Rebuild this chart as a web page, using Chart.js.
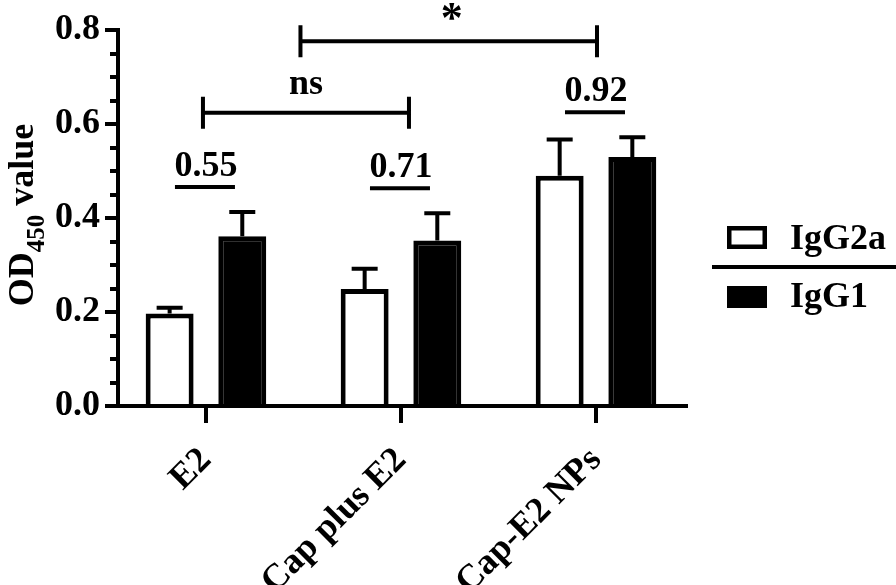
<!DOCTYPE html>
<html><head><meta charset="utf-8">
<script src="https://cdn.jsdelivr.net/npm/chart.js@4/dist/chart.umd.min.js"></script>
<style>html,body{margin:0;padding:0;background:#fff;} canvas{display:block;}</style>
</head><body>
<canvas id="c" width="896" height="585"></canvas>
<script>
// ---- data ----
const categories = ['E2', 'Cap plus E2', 'Cap-E2 NPs'];
const seriesNames = ['IgG2a', 'IgG1'];
const igg2a = [0.197, 0.249, 0.490];
const igg2aErr = [0.012, 0.043, 0.077];
const igg1 = [0.361, 0.352, 0.530];
const igg1Err = [0.052, 0.058, 0.042];
const yTicks = [0, 0.2, 0.4, 0.6, 0.8];
const pValues = ['0.55', '0.71', '0.92'];          // IgG2a vs IgG1 within each group
const groupTests = ['ns', '*'];                    // between-group comparisons
const groupTestFrom = [0, 0.5];                    // category index
const groupTestTo = [1, 2];

// ---- styling / layout ----
const FONT = '"Liberation Serif", "Times New Roman", serif';
const BLACK = '#000';
const bracketLevel = [0.624, 0.776];   // y (data units) of the bracket lines
const bracketLabelLevel = [0.663, 0.80];

const annot = {
  id: 'annot',
  afterDraw(chart) {
    const {ctx, scales: {x, y}, chartArea} = chart;
    ctx.save();
    ctx.strokeStyle = BLACK; ctx.fillStyle = BLACK; ctx.lineCap = 'butt';

    // minor y ticks
    ctx.lineWidth = 4;
    for (let k = 1; k < 16; k++) {
      if (k % 4 === 0) continue;
      const py = Math.round(y.getPixelForValue(k * 0.05));
      ctx.beginPath(); ctx.moveTo(chartArea.left - 8, py); ctx.lineTo(chartArea.left, py); ctx.stroke();
    }

    // error bars (upper only)
    const capTops = [[], []];
    chart.data.datasets.forEach((ds, di) => {
      const meta = chart.getDatasetMeta(di);
      meta.data.forEach((bar, i) => {
        const top = y.getPixelForValue(ds.data[i].y + ds.err[i]);
        capTops[di][i] = top;
        ctx.lineWidth = 4;
        ctx.beginPath();
        ctx.moveTo(bar.x, bar.y); ctx.lineTo(bar.x, top);
        ctx.moveTo(bar.x - 13, top); ctx.lineTo(bar.x + 13, top);
        ctx.stroke();
      });
    });

    // p-values above each pair
    ctx.font = 'bold 36px ' + FONT;
    ctx.textAlign = 'center'; ctx.textBaseline = 'alphabetic';
    pValues.forEach((t, i) => {
      const b0 = chart.getDatasetMeta(0).data[i], b1 = chart.getDatasetMeta(1).data[i];
      const lineY = Math.min(capTops[0][i], capTops[1][i]) - 25;
      const cx = (b0.x + b1.x) / 2;
      ctx.lineWidth = 4;
      ctx.beginPath(); ctx.moveTo(cx - 31, lineY); ctx.lineTo(cx + 29, lineY); ctx.stroke();
      ctx.fillText(t, cx, lineY - 11);
    });

    // group comparison brackets
    groupTests.forEach((t, i) => {
      const x0 = x.getPixelForValue(groupTestFrom[i]) - 3;
      const x1 = x.getPixelForValue(groupTestTo[i]) + (i === 0 ? 8 : 1);
      const ly = y.getPixelForValue(bracketLevel[i]);
      ctx.lineWidth = 4;
      ctx.beginPath();
      ctx.moveTo(x0, ly); ctx.lineTo(x1, ly);
      ctx.moveTo(x0, ly - 16); ctx.lineTo(x0, ly + 16);
      ctx.moveTo(x1, ly - 16); ctx.lineTo(x1, ly + 16);
      ctx.stroke();
      const tx = (x0 + x1) / 2 + (i === 1 ? 3 : 0);
      ctx.font = (i === 1 ? 'bold 44px ' : 'bold 36px ') + FONT;
      ctx.fillText(t, tx, y.getPixelForValue(bracketLabelLevel[i]) + (i === 1 ? 2 : 0));
    });

    // y axis title with subscript
    ctx.save();
    ctx.translate(33, 215);
    ctx.rotate(-Math.PI / 2);
    const mainF = 'bold 36px ' + FONT, subF = 'bold 25px ' + FONT;
    ctx.font = mainF; const wOD = ctx.measureText('OD').width; const wVal = ctx.measureText(' value').width;
    ctx.font = subF; const wSub = ctx.measureText('450').width;
    let sx = -(wOD + wSub + wVal) / 2;
    ctx.textAlign = 'left';
    ctx.font = mainF; ctx.fillText('OD', sx, 0); sx += wOD;
    ctx.font = subF; ctx.fillText('450', sx, 11); sx += wSub;
    ctx.font = mainF; ctx.fillText(' value', sx, 0);
    ctx.restore();

    // legend
    const ds = chart.data.datasets;
    ctx.lineWidth = 4.5;
    ctx.fillStyle = ds[0].backgroundColor; ctx.fillRect(727, 226, 40, 23);
    ctx.strokeStyle = ds[0].borderColor; ctx.strokeRect(729.25, 228.25, 35.5, 18.5);
    ctx.fillStyle = ds[1].backgroundColor; ctx.fillRect(727, 286, 40, 22);
    ctx.fillStyle = BLACK;
    ctx.font = 'bold 36px ' + FONT; ctx.textAlign = 'left';
    ctx.fillText(ds[0].label, 790, 249);
    ctx.fillText(ds[1].label, 790, 307);
    ctx.strokeStyle = BLACK; ctx.lineWidth = 4;
    ctx.beginPath(); ctx.moveTo(712, 267); ctx.lineTo(896, 267); ctx.stroke();

    ctx.restore();
  }
};

new Chart(document.getElementById('c'), {
  type: 'bar',
  data: {
    datasets: [
      { label: seriesNames[0], data: igg2a.map((v, i) => ({x: i, y: v})), err: igg2aErr,
        backgroundColor: '#fff', borderColor: BLACK, borderWidth: 5 },
      { label: seriesNames[1], data: igg1.map((v, i) => ({x: i, y: v})), err: igg1Err,
        backgroundColor: BLACK, borderColor: BLACK, borderWidth: 5 }
    ]
  },
  options: {
    responsive: false, animation: false, devicePixelRatio: 1,
    categoryPercentage: 0.745, barPercentage: 0.66,
    layout: {padding: {left: 0, top: 30, right: 210, bottom: 0}},
    plugins: {legend: {display: false}, tooltip: {enabled: false}, title: {display: false}},
    scales: {
      x: {
        type: 'linear', min: -0.451, max: 2.4615, offset: false,
        afterBuildTicks: s => { s.ticks = categories.map((c, i) => ({value: i})); },
        afterFit: s => { s.height = 179; },
        grid: {offset: false, drawOnChartArea: false, drawTicks: true, tickLength: 17, lineWidth: 4, color: BLACK},
        border: {display: true, width: 4, color: BLACK},
        ticks: {minRotation: 45, maxRotation: 45, padding: 24, color: BLACK, autoSkip: false,
          font: {family: FONT, size: 36, weight: 'bold', lineHeight: 0.6},
          callback: v => categories[v] ?? ''}
      },
      y: {
        min: 0, max: 0.8,
        afterBuildTicks: s => { s.ticks = yTicks.map(v => ({value: v})); },
        afterFit: s => { s.width = 118; },
        grid: {drawOnChartArea: false, drawTicks: true, tickLength: 13, lineWidth: 4, color: BLACK},
        border: {display: true, width: 4, color: BLACK},
        ticks: {padding: 5, color: BLACK, font: {family: FONT, size: 36, weight: 'bold'},
          callback: v => Number(v).toFixed(1)}
      }
    }
  },
  plugins: [annot]
});
</script>
</body></html>
